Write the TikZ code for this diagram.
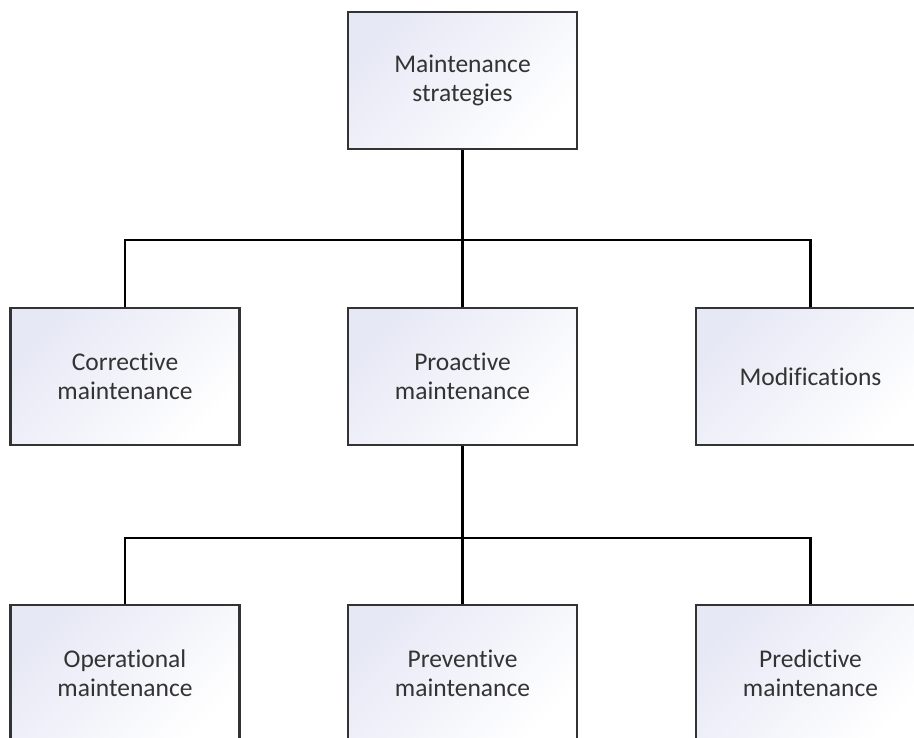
\documentclass[tikz,border=0pt]{standalone}
\usepackage{fontspec}
\setmainfont[Ligatures={NoCommon,NoContextual,NoRare},Contextuals={NoAlternate}]{Carlito}
\definecolor{boxtint}{HTML}{E6E8F5}
% break the "ti" ligature that Carlito forms
\newcommand{\tisep}{\kern0pt}
\begin{document}
\begin{tikzpicture}[x=1pt,y=1pt,
  box/.style={draw=black!80, line width=2.6pt, minimum width=229pt, minimum height=137pt,
    inner sep=0pt, align=center, text=black!80, font=\fontsize{25.5}{29}\selectfont,
    top color=boxtint, bottom color=white, shading angle=45},
  link/.style={draw=black, line width=2.6pt}]
\useasboundingbox (0,0) rectangle (914,-738);
\clip (0,0) rectangle (914,-738);
% levels of the hierarchy
\node[box] (root) at (462.5,-80.5) {Maintenance\\strategies};
\node[box] (corr) at (125,-376.5) {Correct\tisep ive\\maintenance};
\node[box] (pro)  at (462.5,-376.5) {Proact\tisep ive\\maintenance};
\node[box] (mods) at (810.5,-376.5) {Modificat\tisep ions};
\node[box] (oper) at (125,-673.5) {Operat\tisep ional\\maintenance};
\node[box] (prev) at (462.5,-673.5) {Prevent\tisep ive\\maintenance};
\node[box] (pred) at (810.5,-673.5) {Predict\tisep ive\\maintenance};
% bus lines joining parents and children
\coordinate (bus1) at (462.5,-240);
\coordinate (bus2) at (462.5,-538);
\draw[link] (root.south) -- (pro.north);
\draw[link] (corr.north) |- (bus1) -| (mods.north);
\draw[link] (pro.south) -- (prev.north);
\draw[link] (oper.north) |- (bus2) -| (pred.north);
\end{tikzpicture}
\end{document}
